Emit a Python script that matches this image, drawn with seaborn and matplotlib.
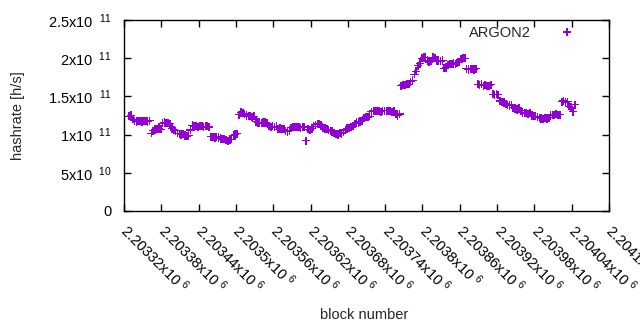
import numpy as np
import pandas as pd
import matplotlib
matplotlib.use("Agg")
import matplotlib.pyplot as plt
from matplotlib.path import Path
import seaborn as sns

series_name = "ARGON2"
first_block = 2203328
block_step = 3
hashrate_e11 = [
    1.24, 1.25, 1.20,
    1.18, 1.17, 1.18, 1.18, 1.17, 1.18, 1.18, 1.17, 1.18,
    1.02,
    1.05, 1.07, 1.07, 1.08, 1.07,
    1.15, 1.16, 1.15, 1.15, 1.14,
    1.08, 1.06, 1.05,
    1.02, 1.01, 1.00, 1.01,
    0.99, 0.98, 0.99,
    1.06, 1.12, 1.11, 1.11, 1.10, 1.11, 1.11, 1.10, 1.11, 1.11, 1.10,
    0.97, 0.97, 0.96, 0.97, 0.96,
    0.95, 0.94, 0.94, 0.93, 0.92, 0.93, 0.94,
    0.99, 1.00, 1.01,
    1.26, 1.29, 1.28, 1.27,
    1.25, 1.24, 1.24, 1.23, 1.24,
    1.17, 1.16, 1.16, 1.15, 1.16, 1.16, 1.15,
    1.11, 1.10, 1.11, 1.10, 1.11,
    1.07, 1.08, 1.07, 1.07,
    1.05, 1.04, 1.05,
    1.09, 1.10, 1.10, 1.10, 1.10, 1.09, 1.10, 1.10,
    0.92, 1.07, 1.06, 1.08,
    1.11, 1.13, 1.14, 1.14, 1.12,
    1.09, 1.08, 1.07, 1.06, 1.05,
    1.04, 1.02, 1.01, 1.00, 1.02, 1.01, 1.03,
    1.06, 1.08, 1.09, 1.10, 1.11,
    1.14, 1.16, 1.16, 1.17, 1.18,
    1.22, 1.23, 1.23, 1.24,
    1.30, 1.31, 1.31, 1.31, 1.31, 1.30, 1.31, 1.31, 1.31, 1.31, 1.31, 1.30, 1.31,
    1.27, 1.25, 1.27,
    1.64, 1.65, 1.65, 1.66, 1.66,
    1.69, 1.71,
    1.79, 1.83,
    1.90, 1.93,
    2.00, 2.01, 2.01,
    1.97, 1.95, 1.96,
    2.01, 2.00,
    1.97, 1.97, 1.96, 1.97,
    1.87, 1.88,
    1.91, 1.92, 1.92, 1.93, 1.92,
    1.94, 1.95,
    1.99, 2.00, 2.00,
    1.86, 1.85, 1.86, 1.86, 1.85, 1.86,
    1.66, 1.65, 1.66,
    1.64, 1.65, 1.64, 1.64, 1.65,
    1.53, 1.52, 1.53, 1.52,
    1.44, 1.43, 1.42,
    1.40, 1.39, 1.38, 1.39,
    1.35, 1.34, 1.33, 1.34,
    1.31, 1.29, 1.28, 1.28, 1.27, 1.28,
    1.25, 1.24, 1.24, 1.23,
    1.22, 1.21, 1.20, 1.22, 1.21, 1.22,
    1.25, 1.26, 1.26, 1.27, 1.26, 1.26,
    1.43, 1.44, 1.42, 1.43,
    1.37, 1.36,
    1.30, 1.39,
]

x_ticks = [2203320, 2203380, 2203440, 2203500, 2203560, 2203620, 2203680,
           2203740, 2203800, 2203860, 2203920, 2203980, 2204040, 2204100]
x_tick_mantissas = ["2.20332", "2.20338", "2.20344", "2.2035", "2.20356", "2.20362",
                    "2.20368", "2.20374", "2.2038", "2.20386", "2.20392", "2.20398",
                    "2.20404", "2.2041"]
y_ticks = [0, 5e10, 1e11, 1.5e11, 2e11, 2.5e11]
y_tick_texts = ["0", "5x10 \u2009$^{10}$", "1x10 \u2009$^{11}$", "1.5x10 \u2009$^{11}$",
                "2x10 \u2009$^{11}$", "2.5x10 \u2009$^{11}$"]

sns.set_style("ticks")
plt.rcParams["font.family"] = ["Liberation Sans", "DejaVu Sans"]
plt.rcParams["mathtext.fontset"] = "custom"
plt.rcParams["mathtext.rm"] = "Liberation Sans"
plt.rcParams["mathtext.it"] = "Liberation Sans"
plt.rcParams["mathtext.bf"] = "Liberation Sans"

# filled "+" glyph (gnuplot point type 1 look, denser vertical stroke)
a, b = 0.2, 0.13
plus_path = Path([(-a, 1), (a, 1), (a, b), (1, b), (1, -b), (a, -b), (a, -1),
                  (-a, -1), (-a, -b), (-1, -b), (-1, b), (-a, b), (-a, 1)],
                 closed=True)

blocks = first_block + block_step * np.arange(len(hashrate_e11))
df = pd.DataFrame({"block": blocks,
                   "hashrate": np.array(hashrate_e11) * 1e11,
                   "series": series_name})

fig = plt.figure(figsize=(6.4, 3.3), dpi=100)
ax = fig.add_axes([124 / 640, 1 - 211 / 330, (609 - 124) / 640, (211 - 20) / 330])

sns.scatterplot(data=df, x="block", y="hashrate", hue="series",
                palette=["#9400d3"], marker=plus_path, s=36, linewidth=0,
                edgecolor="none", ax=ax)

ax.set_xlim(x_ticks[0], x_ticks[-1])
ax.set_ylim(0, 2.5e11)
ax.set_xticks(x_ticks)
ax.set_xticklabels([m + "x10 $^{6}$" for m in x_tick_mantissas],
                   rotation=-45, ha="left", va="center", rotation_mode="anchor",
                   fontsize=10.5)
ax.set_yticks(y_ticks)
ax.set_yticklabels(y_tick_texts, fontsize=10.5)
ax.tick_params(direction="in", top=True, right=True, length=5, width=1,
               color="black", labelcolor="black")
ax.tick_params(axis="y", pad=9)
ax.tick_params(axis="x", pad=12)
for sp in ax.spines.values():
    sp.set_visible(True)
    sp.set_color("black")
    sp.set_linewidth(1)

ax.set_ylabel("hashrate [h/s]", fontsize=10.5)
ax.yaxis.set_label_coords(-0.204, 0.5)
ax.set_xlabel("block number", fontsize=10.5)
ax.xaxis.set_label_coords(0.496, -0.51)

leg = ax.legend(frameon=False, markerfirst=False, loc="upper right",
                bbox_to_anchor=(0.961, 1.014), fontsize=10.5, handletextpad=1.47,
                borderaxespad=0.2)

fig.savefig("out.png", dpi=100)
